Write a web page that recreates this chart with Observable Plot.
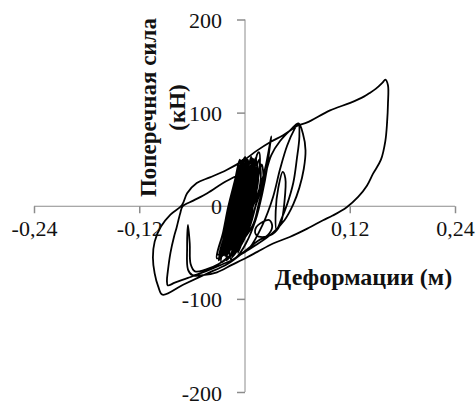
<!DOCTYPE html>
<html>
<head>
<meta charset="utf-8">
<script src="https://cdn.jsdelivr.net/npm/d3@7"></script>
<script src="https://cdn.jsdelivr.net/npm/@observablehq/plot@0.6"></script>
<style>
html, body { margin: 0; padding: 0; background: #fff; }
#chart svg { display: block; }
</style>
</head>
<body>
<div id="chart"></div>
<script>
// Displacement (m) and transverse force (kN), read along the recorded path
const disp = [
  -0.020,-0.013,-0.007,0.000,0.005,0.007,0.001,-0.006,
  -0.024,-0.017,-0.011,-0.004,0.001,0.003,-0.003,-0.010,
  -0.028,-0.021,-0.015,-0.008,-0.003,-0.001,-0.007,-0.014,
  -0.030,-0.023,-0.017,-0.010,-0.005,-0.003,-0.009,-0.016,
  -0.026,-0.019,-0.013,-0.006,-0.001,0.001,-0.005,-0.012,
  -0.022,-0.015,-0.009,-0.002,0.003,0.005,-0.001,-0.008,
  -0.018,-0.011,-0.005,0.002,0.007,0.009,0.003,-0.004,
  -0.012,-0.003,0.005,0.011,0.014,0.016,0.017,0.013,0.006,-0.003,
  -0.015,-0.004,0.007,0.017,0.024,0.028,0.030,0.028,0.025,0.020,0.012,0.001,-0.010,
  -0.025,-0.045,-0.065,-0.080,-0.088,-0.089,-0.088,-0.085,-0.081,-0.078,-0.074,-0.071,-0.059,-0.043,-0.025,-0.006,0.004,0.008,
  0.009,0.003,-0.005,-0.012,
  -0.015,-0.008,-0.002,0.005,0.010,0.012,0.006,-0.001,
  -0.012,-0.005,0.001,0.008,0.013,0.015,0.009,0.002,
  -0.032,-0.025,-0.019,-0.012,-0.007,-0.005,-0.011,-0.018,
  -0.016,-0.009,-0.003,0.004,0.009,0.011,0.005,-0.002,
  -0.008,0.000,0.012,0.022,0.030,0.040,0.052,0.061,0.066,0.069,0.067,0.062,0.055,0.045,0.030,0.012,-0.005,
  0.005,0.020,0.032,0.040,0.048,0.056,0.061,0.062,0.059,0.055,0.048,0.041,
  0.036,0.035,0.038,0.043,0.046,0.045,0.041,0.034,
  0.022,0.013,0.012,0.020,0.028,0.031,0.026,0.015,0.000,
  -0.020,-0.045,-0.070,-0.094,-0.099,-0.103,-0.105,-0.103,-0.096,-0.085,-0.072,-0.066,-0.055,-0.040,-0.021,-0.002,0.014,0.029,0.043,0.061,0.071,0.097,0.120,0.136,0.141,0.149,0.157,0.160,
  0.163,0.163,0.162,0.160,0.155,0.146,0.139,0.129,0.116,0.100,0.089,0.071,0.051,0.032,0.014,0.002,-0.015,-0.032,-0.048,-0.060,-0.065,-0.066,-0.065,-0.063,-0.062,-0.057,-0.045,-0.030,-0.020,
  -0.009,-0.002,0.004,0.011,0.016,0.018,0.012,0.005,
  -0.006,0.001,0.007,0.014,0.019,0.021,0.015,0.008,
  -0.027,-0.020,-0.014,-0.007,-0.002,0.000,-0.006,-0.013,
  -0.023,-0.016,-0.010,-0.003,0.002,0.004,-0.002,-0.009,
  -0.019,-0.012,-0.006,0.001,0.006,0.008,0.002,-0.005,-0.010,
  -0.029,-0.022,-0.016,-0.009,-0.004,-0.002,-0.008,-0.015,
  -0.013,-0.006,0.000,0.007,0.012,0.014,0.008,0.001,
  -0.021,-0.014,-0.008,-0.001,0.004,0.006,0.000,-0.007,
  -0.031,-0.024,-0.018,-0.011,-0.006,-0.004,-0.010,-0.017,
  -0.017,-0.010,-0.004,0.003,0.008,0.010,0.004,-0.003,
  -0.025,-0.018,-0.012,-0.005,0.000,0.002,-0.004,-0.011
];
const force = [
  -45,-22,0,24,40,24,0,-22,
  -52,-26,0,29,48,29,0,-26,
  -55,-27,0,30,50,30,0,-27,
  -58,-29,0,28,46,28,0,-29,
  -50,-25,0,31,52,31,0,-25,
  -54,-27,0,30,50,30,0,-27,
  -48,-24,0,32,53,32,0,-24,
  -45,-15,15,42,56,58,45,20,-10,-38,
  -55,-30,-5,20,45,65,75,62,40,15,-15,-40,-55,
  -62,-70,-77,-82,-85,-80,-70,-50,-33,-23,-8,0,6,14,25,35,45,50,
  40,15,-15,-40,
  -52,-26,0,29,49,29,0,-26,
  -50,-25,0,28,47,28,0,-25,
  -56,-28,0,26,44,26,0,-28,
  -57,-28,0,31,51,31,0,-28,
  -50,-30,0,30,55,70,82,89,78,60,40,20,2,-15,-30,-42,-52,
  -45,-20,10,40,65,82,89,75,50,25,2,-15,
  -25,-5,20,37,30,5,-18,-28,
  -33,-31,-24,-17,-15,-22,-31,-37,-48,
  -62,-73,-84,-95,-86,-72,-55,-38,-22,-9,1,14,25,31,39,49,60,69,76,87,90,103,111,118,121,126,133,136,
  130,110,90,70,50,35,22,10,-1,-10,-15,-24,-33,-40,-49,-55,-63,-71,-74,-74,-68,-45,-20,-40,-62,-70,-68,-62,-55,
  -46,-23,0,30,50,30,0,-23,
  -44,-22,0,27,45,27,0,-22,
  -60,-30,0,28,47,28,0,-30,
  -53,-26,0,31,51,31,0,-26,
  -51,-25,0,29,48,29,0,-25,-40,
  -54,-27,0,29,49,29,0,-27,
  -49,-24,0,31,52,31,0,-24,
  -58,-29,0,27,45,27,0,-29,
  -52,-26,0,30,50,30,0,-26,
  -55,-27,0,28,47,28,0,-27,
  -50,-25,0,32,53,32,0,-25
];

const xTicks = [-0.24, -0.12, 0, 0.12, 0.24];
const xTickLabels = ["-0,24", "-0,12", "", "0,12", "0,24"];
const yTicks = [-200, -100, 0, 100, 200];
const yTickLabels = ["-200", "-100", "0", "100", "200"];
const xTitle = "Деформации (м)";
const yTitle = "Поперечная сила\n(кН)";

const path = disp.map((x, i) => ({x, y: force[i]}));
const xLabelData = xTicks.map((v, i) => ({v, t: xTickLabels[i]})).filter(d => d.t !== "");
const yLabelData = yTicks.map((v, i) => ({v, t: yTickLabels[i]}));

const axisColor = "#8c8c8c";
const tickDown = {draw(ctx) { ctx.moveTo(0, 0); ctx.lineTo(0, 7); }};
const tickLeft = {draw(ctx) { ctx.moveTo(0, 0); ctx.lineTo(-8, 0); }};

const chart = Plot.plot({
  width: 476,
  height: 401,
  marginLeft: 34,
  marginRight: 21,
  marginTop: 19.5,
  marginBottom: 9,
  x: {domain: [-0.24, 0.24], axis: null},
  y: {domain: [-200, 200], axis: null},
  style: {fontFamily: "'Liberation Serif', 'Times New Roman', serif", background: "#fff"},
  marks: [
    Plot.ruleY([0], {stroke: axisColor, strokeWidth: 1}),
    Plot.ruleX([0], {stroke: axisColor, strokeWidth: 1}),
    Plot.dot(xTicks, {x: d => d, y: 0, symbol: tickDown, stroke: axisColor, fill: "none", r: 3}),
    Plot.dot(yTicks, {x: 0, y: d => d, symbol: tickLeft, stroke: axisColor, fill: "none", r: 3}),
    Plot.line(path, {x: "x", y: "y", curve: "catmull-rom", stroke: "#000", strokeWidth: 1.8}),
    Plot.text(xLabelData, {x: "v", y: 0, text: "t", dy: 23, fontSize: 22, fill: "#111", textAnchor: "middle"}),
    Plot.text(yLabelData, {x: 0, y: "v", text: "t", dx: -23, dy: 1, fontSize: 22, fill: "#111", textAnchor: "end"}),
    Plot.text([xTitle], {frameAnchor: "top-left", dx: 329, dy: 248, text: d => d, fontSize: 24, fontWeight: "bold", fill: "#111", textAnchor: "middle"}),
    Plot.text([yTitle], {frameAnchor: "top-left", dx: 126.5, dy: 87.5, text: d => d, rotate: -90, fontSize: 23, fontWeight: "bold", fill: "#111", textAnchor: "middle", lineAnchor: "middle", lineHeight: 1.25})
  ]
});
document.getElementById("chart").appendChild(chart);
</script>
</body>
</html>
